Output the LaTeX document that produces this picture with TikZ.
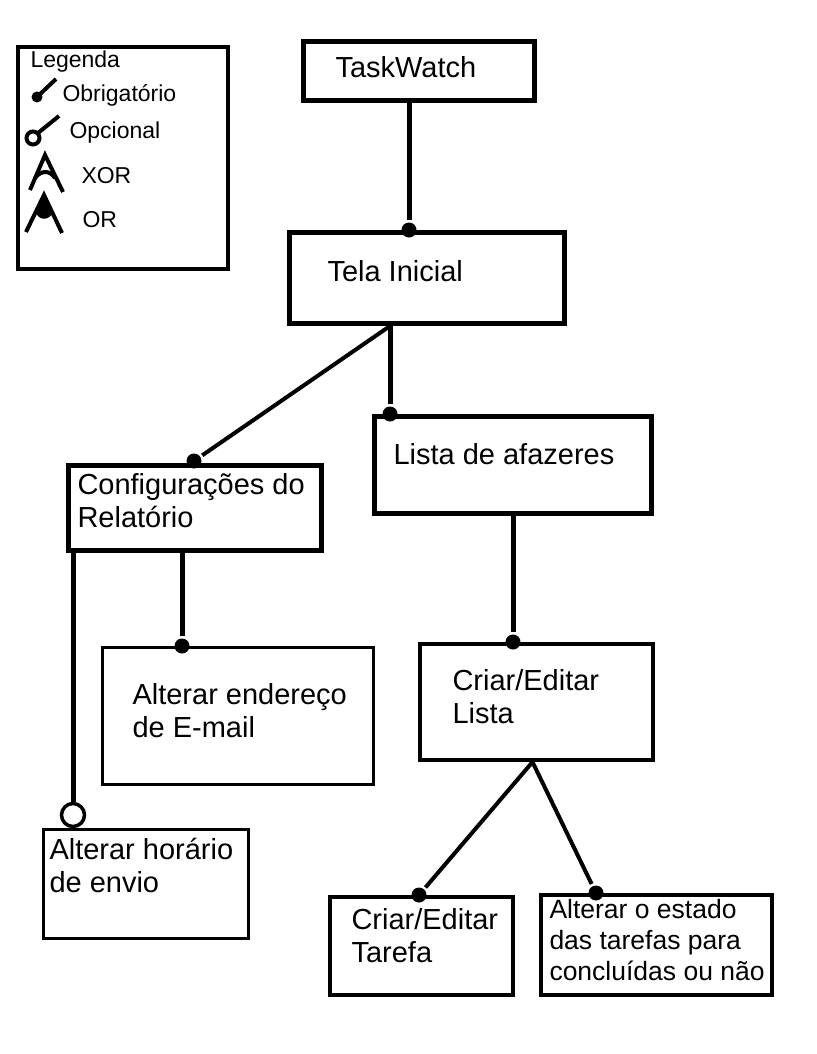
\documentclass[tikz,border=0pt]{standalone}
\usepackage{fontspec}
\setmainfont{Liberation Sans}
\begin{document}
\begin{tikzpicture}[x=1pt, y=-1pt, line width=5pt,
		box/.style={draw, anchor=north west, inner sep=0pt},
		txt/.style={anchor=base west, align=left, inner sep=0pt, font=\fontsize{29}{33}\selectfont},
		small/.style={anchor=base west, align=left, inner sep=0pt, font=\fontsize{26.5}{31}\selectfont},
		leg/.style={anchor=base west, inner sep=0pt, font=\fontsize{23}{26}\selectfont},
		dot/.style={fill, circle, inner sep=0pt, minimum size=15pt},
		opt/.style={draw, fill=white, circle, line width=3.5pt, inner sep=0pt, minimum size=23pt}]
		\useasboundingbox (0,0) rectangle (816,1054);
		
		% legenda
		\node[box, line width=4pt, minimum width=210pt, minimum height=222pt] at (16,45) (Leg) {};
		\node[leg] at (28,68) (Legt) {Legenda};
		\node[leg] at (60,102) (Obt) {Obrigatório};
		\node[leg] at (67,139) (Opt) {Opcional};
		\node[leg] at (79,183) (Xt) {XOR};
		\node[leg] at (80,227) (Ot) {OR};
		\begin{scope}[line width=4pt]
			\draw (37,97) -- (56,79);
			\fill (37,97) circle (5.5);
			\draw (33,138) circle (6.5) (38,133) -- (59,116);
			\draw (30,190) -- (45,155) -- (63,192);
			\draw (35,178) .. controls (41,170) and (50,170) .. (55,178);
			\draw (26,232) -- (44,195) -- (62,233);
			\fill (44,195) -- (36,212) .. controls (38,221) and (50,221) .. (53,212) -- cycle;
		\end{scope}
		
		% caixas
		\node[box, minimum width=231pt, minimum height=59pt] at (301,39) (TW) {};
		\node[box, minimum width=275pt, minimum height=91pt] at (287,230) (TI) {};
		\node[box, minimum width=277pt, minimum height=97pt] at (372,414) (L) {};
		\node[box, minimum width=253pt, minimum height=85pt] at (66,463) (Cfg) {};
		\node[box, line width=3pt, minimum width=271pt, minimum height=137pt] at (101,646) (E) {};
		\node[box, line width=3pt, minimum width=205pt, minimum height=109pt] at (42,828) (H) {};
		\node[box, line width=4pt, minimum width=233pt, minimum height=116pt] at (418,642) (CL) {};
		\node[box, line width=4pt, minimum width=183pt, minimum height=98pt] at (328,895) (CT) {};
		\node[box, line width=4pt, minimum width=231pt, minimum height=100pt] at (539,893) (S) {};
		
		% texto (base = ultima linha)
		\node[txt] at (333,78) (TWt) {TaskWatch};
		\node[txt] at (325,281) (TIt) {Tela Inicial};
		\node[txt] at (391,464) (Lt) {Lista de afazeres};
		\node[txt] at (75,527) (Cfgt) {Configurações do\\Relatório};
		\node[txt] at (130,737) (Et) {Alterar endereço\\de E-mail};
		\node[txt] at (47,892) (Ht) {Alterar horário\\de envio};
		\node[txt] at (450,723) (CLt) {Criar/Editar\\Lista};
		\node[txt] at (349,962) (CTt) {Criar/Editar\\Tarefa};
		\node[small] at (547,980) (St) {Alterar o estado\\das tarefas para\\concluídas ou não};
		
		% ligacoes
		\node[dot] at (409,230) (d1) {};
		\node[dot] at (194,461) (d2) {};
		\node[dot] at (390,414) (d3) {};
		\node[dot] at (182,646) (d4) {};
		\node[opt] at (73,815) (o1) {};
		\node[dot] at (513,642) (d5) {};
		\node[dot] at (419,895) (d6) {};
		\node[dot] at (596,893) (d7) {};
		
		\draw (d1) -- (d1 |- TW.south);
		\draw (d3) -- (d3 |- TI.south);
		\draw[line width=4pt] (d3 |- TI.south) -- (d2);
		\draw (d4) -- (d4 |- Cfg.south);
		\draw (o1) -- (o1 |- Cfg.south);
		\draw (d5) -- (d5 |- L.south);
		\draw[line width=4pt] ([xshift=-4pt]CL.south) -- (d6);
		\draw[line width=4pt] ([xshift=-4pt]CL.south) -- (d7);
		\end{tikzpicture}
\end{document}
